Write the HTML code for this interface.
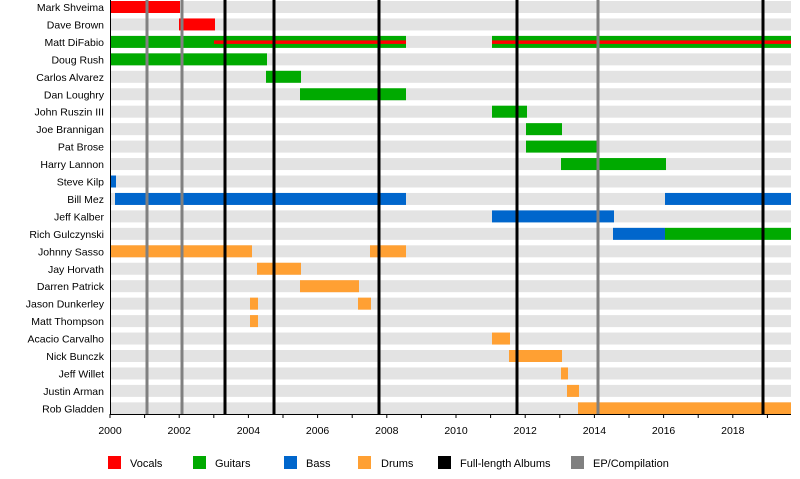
<!DOCTYPE html>
<html><head><meta charset="utf-8"><style>
body{margin:0;background:#fff;}
</style></head><body>
<svg width="800" height="474" xmlns="http://www.w3.org/2000/svg" font-family="Liberation Sans, sans-serif" font-size="10.5">
<g id="bands" fill="#e3e3e3"></g>
<g id="bars"></g>
<g id="lines"></g>
<g id="labels" fill="#000" text-anchor="end"></g>
<line x1="110" y1="414.5" x2="791" y2="414.5" stroke="#000" stroke-width="1"/>
<line x1="110.5" y1="0" x2="110.5" y2="414" stroke="#000" stroke-width="1"/>
<g id="ticks"></g>
<g font-size="11">
<rect x="108" y="456" width="13" height="13" fill="#ff0000"/><text x="130" y="467">Vocals</text>
<rect x="193" y="456" width="13" height="13" fill="#00aa00"/><text x="215" y="467">Guitars</text>
<rect x="284" y="456" width="13" height="13" fill="#0066cc"/><text x="306" y="467">Bass</text>
<rect x="358" y="456" width="13" height="13" fill="#ffa033"/><text x="381" y="467">Drums</text>
<rect x="438" y="456" width="13" height="13" fill="#000"/><text x="460" y="467">Full-length Albums</text>
<rect x="571" y="456" width="13" height="13" fill="#808080"/><text x="593" y="467">EP/Compilation</text>
</g>
<script>
const ns="http://www.w3.org/2000/svg";
function el(p,t,a,txt){const e=document.createElementNS(ns,t);for(const k in a)e.setAttribute(k,a[k]);if(txt)e.textContent=txt;document.getElementById(p).appendChild(e);}
const names=["Mark Shveima","Dave Brown","Matt DiFabio","Doug Rush","Carlos Alvarez","Dan Loughry","John Ruszin III","Joe Brannigan","Pat Brose","Harry Lannon","Steve Kilp","Bill Mez","Jeff Kalber","Rich Gulczynski","Johnny Sasso","Jay Horvath","Darren Patrick","Jason Dunkerley","Matt Thompson","Acacio Carvalho","Nick Bunczk","Jeff Willet","Justin Arman","Rob Gladden"];
const P=17.45,H=12;
const R="#ff0000",G="#00aa00",B="#0066cc",O="#ffa033";
names.forEach((n,i)=>{const y=1+i*P;el("bands","rect",{x:110,y:y,width:681,height:H});el("labels","text",{x:104,y:y+10},n);});
const bars=[[0,110,180,R],[1,179,215,R],[2,110,406,G],[2,492,791,G],[3,110,267,G],[4,266,301,G],[5,300,406,G],[6,492,527,G],[7,526,562,G],[8,526,597,G],[9,561,666,G],[10,110,116,B],[11,115,406,B],[11,665,791,B],[12,492,614,B],[13,613,665,B],[13,665,791,G],[14,110,252,O],[14,370,406,O],[15,257,301,O],[16,300,359,O],[17,250,258,O],[17,358,371,O],[18,250,258,O],[19,492,510,O],[20,509,562,O],[21,561,568,O],[22,567,579,O],[23,578,791,O]];
bars.forEach(b=>{el("bars","rect",{x:b[1],y:1+b[0]*P,width:b[2]-b[1],height:H,fill:b[3]});});
el("bars","rect",{x:214,y:1+2*P+4.5,width:192,height:3.5,fill:R});
el("bars","rect",{x:492,y:1+2*P+4.5,width:299,height:3.5,fill:R});
[147,182,598].forEach(x=>el("lines","rect",{x:x-1.5,y:0,width:3,height:414,fill:"#808080"}));
[225,274,379,517,763].forEach(x=>el("lines","rect",{x:x-1.5,y:0,width:3,height:414,fill:"#000"}));
const s=34.6;
for(let k=0;k<=19;k++){const x=110+k*s;el("ticks","line",{x1:x,y1:414,x2:x,y2:418,stroke:"#000","stroke-width":1});if(k%2==0)el("ticks","text",{x:x,y:434,"text-anchor":"middle"},String(2000+k));}
</script>
</svg>
</body></html>
